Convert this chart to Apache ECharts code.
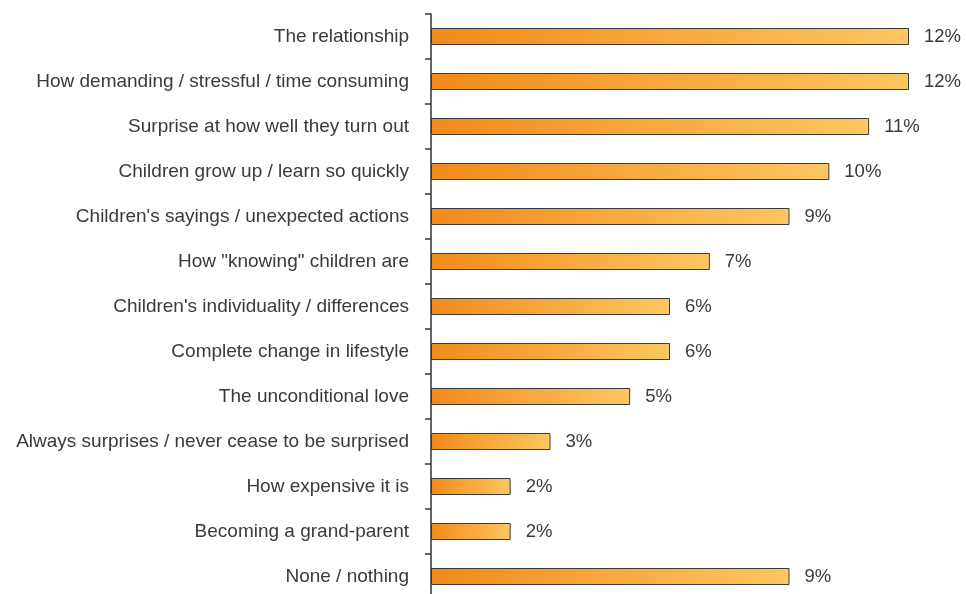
<!DOCTYPE html>
<html>
<head>
<meta charset="utf-8">
<script src="https://cdn.jsdelivr.net/npm/echarts@6/dist/echarts.min.js"></script>
<style>
  html, body { margin: 0; padding: 0; background: #fff; overflow: hidden; }
  #chart { width: 966px; height: 599px; }
</style>
</head>
<body>
<div id="chart"></div>
<script>
// Survey answers, listed top to bottom
const categories = [
  'The relationship',
  'How demanding / stressful / time consuming',
  'Surprise at how well they turn out',
  'Children grow up / learn so quickly',
  "Children's sayings / unexpected actions",
  'How "knowing" children are',
  "Children's individuality / differences",
  'Complete change in lifestyle',
  'The unconditional love',
  'Always surprises / never cease to be surprised',
  'How expensive it is',
  'Becoming a grand-parent',
  'None / nothing'
];
// Share of respondents (%)
const values = [12, 12, 11, 10, 9, 7, 6, 6, 5, 3, 2, 2, 9];

const chart = echarts.init(document.getElementById('chart'), null, { renderer: 'canvas' });

const font = '"Liberation Sans", Arial, sans-serif';

chart.setOption({
  animation: false,
  grid: { left: 431, right: 57, top: 14, bottom: 0, containLabel: false },
  xAxis: {
    type: 'value',
    min: 0,
    max: 12,
    show: false
  },
  yAxis: {
    type: 'category',
    data: categories,
    inverse: true,
    boundaryGap: true,
    axisLine: { show: true, lineStyle: { color: '#333', width: 1.5 } },
    axisTick: { show: true, length: 6, lineStyle: { color: '#333', width: 1.5 } },
    axisLabel: {
      color: '#3a3a3a',
      fontSize: 19,
      fontFamily: font,
      margin: 22,
      padding: [2, 0, 0, 0]
    },
    splitLine: { show: false }
  },
  series: [{
    type: 'bar',
    data: values,
    barWidth: 17,
    itemStyle: {
      color: new echarts.graphic.LinearGradient(0, 0, 1, 0, [
        { offset: 0, color: '#F28A1C' },
        { offset: 1, color: '#FDC761' }
      ]),
      borderColor: '#3a3a3a',
      borderWidth: 1
    },
    label: {
      show: true,
      position: 'right',
      distance: 15,
      formatter: '{c}%',
      color: '#3a3a3a',
      fontSize: 18.5,
      fontFamily: font,
      padding: [3, 0, 0, 0]
    }
  }]
});
</script>
</body>
</html>
